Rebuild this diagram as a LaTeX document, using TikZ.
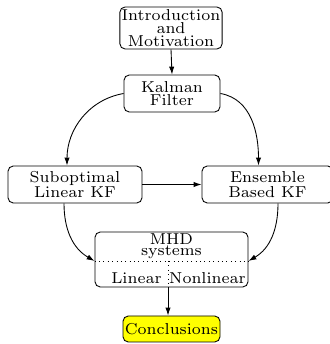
\documentclass[tikz,border=0pt]{standalone}
\usepackage{tikz}
\usetikzlibrary{arrows.meta,calc,positioning}
\definecolor{endyellow}{RGB}{255,255,0}
% light, wide face for every box label
\font\boxrm=cmr7 at 9pt
\tikzset{
  flow/.style={-{Latex[length=4.5pt,width=3pt]},line width=0.5pt},
  divider/.style={black,line width=0.5pt,dotted},
  block/.style={draw=black,line width=0.5pt,rounded corners=3pt,
                inner sep=1pt,align=center,font=\boxrm},
  topic/.style={block,minimum width=19.2mm},
  branch/.style={block,minimum height=7.4mm},
  finish/.style={block,fill=endyellow,minimum width=19.4mm,minimum height=5.2mm},
  part/.style={inner sep=0pt,align=center,font=\boxrm},
}
\begin{document}
\begin{tikzpicture}[x=1cm,y=1cm]
  \path[use as bounding box] (0,0) rectangle (6.58,6.88);

  \node[topic,minimum height=8.4mm] (INTRO) at (3.42,6.32)
    {Introduction\\[-4.8pt]and\\[-4.8pt]Motivation};
  \node[topic,minimum height=7.4mm] (KF) at (3.44,5.01)
    {Kalman\\[-4.2pt]Filter};

  \node[branch,minimum width=26.8mm] (SUB) at (1.50,3.19)
    {Suboptimal\\[-3.5pt]Linear KF};
  \node[branch,minimum width=26.2mm] (ENS) at (5.35,3.19)
    {Ensemble\\[-3.5pt]Based KF};

  % MHD box, split into a title row and two halves
  \node[block,minimum width=30.6mm,minimum height=11mm] (MHD) at (3.43,1.69) {};
  \coordinate (SPLIT) at (3.36,1.66);
  \node[part] (MHDT) at (3.43,1.95) {MHD\\[-5.8pt]systems};
  \node[part] (LIN) at (2.73,1.32) {Linear};
  \node[part] (NONLIN) at (4.15,1.32) {Nonlinear};
  \draw[divider] (MHD.west |- SPLIT) -- (MHD.east |- SPLIT);
  \draw[divider] (SPLIT) -- (SPLIT |- MHD.south);

  \node[finish] (CONC) at (3.43,0.30) {Conclusions};

  \draw[flow] (INTRO.south)--(KF.north);
  \draw[flow] (KF.west) to[out=190,in=90] ([xshift=-1.6mm]SUB.north);
  \draw[flow] (KF.east) to[out=-10,in=90] ([xshift=-1.8mm]ENS.north);
  \draw[flow] (SUB.east)--(ENS.west);
  \draw[flow] ([xshift=-2.2mm]SUB.south) to[out=-90,in=150] (MHD.west |- SPLIT);
  \draw[flow] ([xshift=2.1mm]ENS.south) to[out=-90,in=30] (MHD.east |- SPLIT);
  \draw[flow] (SPLIT |- MHD.south)--(SPLIT |- CONC.north);
\end{tikzpicture}
\end{document}
